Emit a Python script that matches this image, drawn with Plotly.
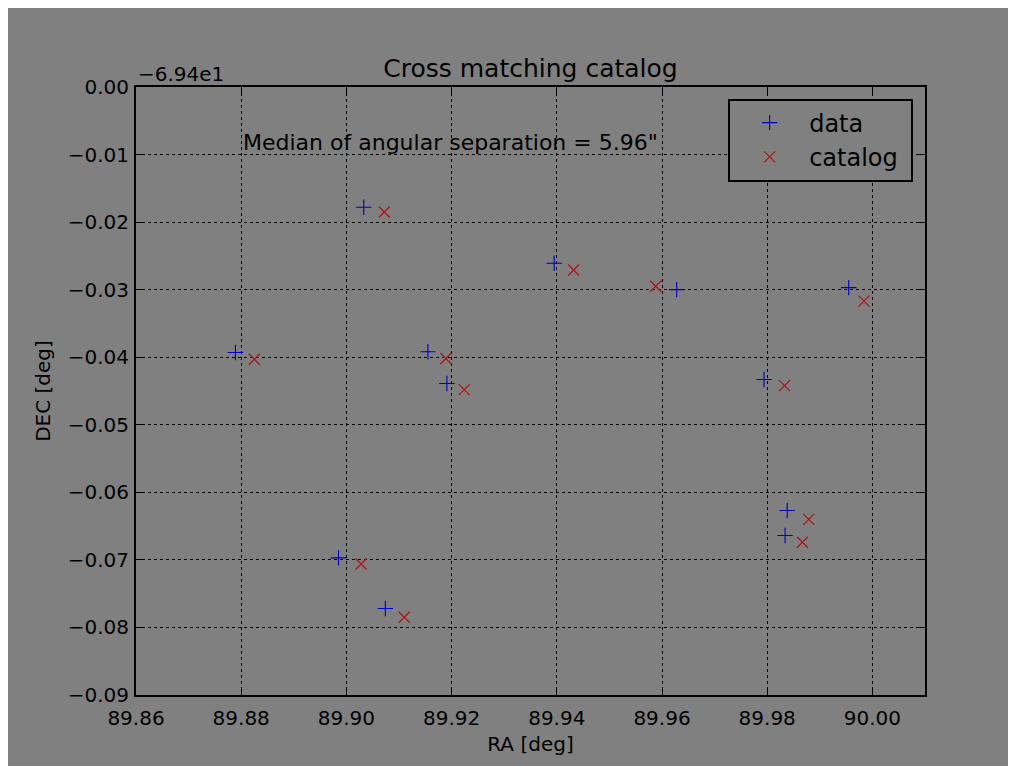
import plotly.graph_objects as go

# Data (RA [deg], DEC offset from -69.4 [deg])
data_ra = [89.8789, 89.9033, 89.9155, 89.9191, 89.9395, 89.9628, 89.9794, 89.9955, 89.9838, 89.9834, 89.8985, 89.9074]
data_dec = [-0.0393, -0.0178, -0.0392, -0.0439, -0.0261, -0.0300, -0.0433, -0.0297, -0.0627, -0.0664, -0.0697, -0.0772]
cat_ra = [89.8825, 89.9072, 89.9189, 89.9224, 89.9432, 89.9588, 89.9833, 89.9984, 89.9879, 89.9867, 89.9028, 89.9110]
cat_dec = [-0.0403, -0.0185, -0.0402, -0.0448, -0.0271, -0.0295, -0.0442, -0.0317, -0.0640, -0.0674, -0.0706, -0.0785]

x_ticks = [89.86, 89.88, 89.90, 89.92, 89.94, 89.96, 89.98, 90.00]
x_labels = ["89.86", "89.88", "89.90", "89.92", "89.94", "89.96", "89.98", "90.00"]
y_ticks = [0.0, -0.01, -0.02, -0.03, -0.04, -0.05, -0.06, -0.07, -0.08, -0.09]
y_labels = ["0.00", "\u22120.01", "\u22120.02", "\u22120.03", "\u22120.04", "\u22120.05",
            "\u22120.06", "\u22120.07", "\u22120.08", "\u22120.09"]

GRAY = "#808080"
FONT = "DejaVu Sans"
BLUE = "#0000c0"
RED = "#b01515"

fig = go.Figure()
fig.add_trace(go.Scatter(
    x=data_ra, y=data_dec, mode="markers", name="data",
    marker=dict(symbol="cross-thin", size=11, color=BLUE,
                line=dict(color=BLUE, width=1.1)),
))
fig.add_trace(go.Scatter(
    x=cat_ra, y=cat_dec, mode="markers", name="catalog\u00a0",
    marker=dict(symbol="x-thin", size=11, color=RED,
                line=dict(color=RED, width=1.3)),
))

axis_common = dict(
    showline=True, linecolor="black", linewidth=2, mirror="allticks",
    ticks="inside", ticklen=7, tickcolor="black", tickwidth=1,
    showgrid=True, gridcolor="black", gridwidth=1, griddash="dot",
    zeroline=False, tickfont=dict(family=FONT, size=20, color="black"),
)

fig.update_xaxes(range=[89.86, 90.01], tickvals=x_ticks, ticktext=x_labels,
                 ticklabelstandoff=4,
                 title=dict(text="RA [deg]", font=dict(family=FONT, size=20, color="black"), standoff=8),
                 **axis_common)
fig.update_yaxes(range=[-0.09, 0.0], tickvals=y_ticks, ticktext=y_labels,
                 ticklabelstandoff=1,
                 title=dict(text="DEC [deg]", font=dict(family=FONT, size=20, color="black"), standoff=12),
                 **axis_common)

fig.add_annotation(x=89.88, y=-0.01, xref="x", yref="y", text="Median of angular separation = 5.96\"",
                   showarrow=False, xanchor="left", yanchor="bottom", yshift=-2,
                   font=dict(family=FONT, size=22, color="black"))
fig.add_annotation(x=0, y=1, xref="paper", yref="paper", text="\u22126.94e1",
                   showarrow=False, xanchor="left", yanchor="bottom", yshift=-1,
                   font=dict(family=FONT, size=20, color="black"))

fig.update_layout(
    width=1016, height=766,
    paper_bgcolor=GRAY, plot_bgcolor=GRAY,
    margin=dict(l=128, r=99, t=79, b=79),
    font=dict(family=FONT, color="black"),
    title=dict(text="Cross matching catalog", x=0.5, xref="paper", xanchor="center",
               y=0.9217, yanchor="middle", font=dict(family=FONT, size=25, color="black")),
    showlegend=True,
    legend=dict(x=0.985, y=0.981, xanchor="right", yanchor="top",
                bgcolor=GRAY, bordercolor="black", borderwidth=2,
                font=dict(family=FONT, size=24, color="black"),
                itemwidth=69, tracegroupgap=4),
)

fig.write_html("out.html")
